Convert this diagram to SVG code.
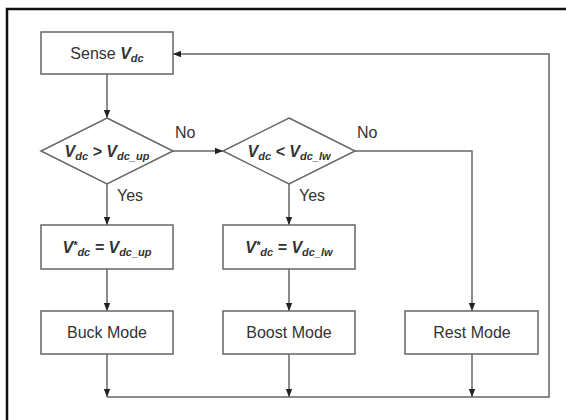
<svg xmlns="http://www.w3.org/2000/svg" width="566" height="420" viewBox="0 0 566 420">
<style>
.box{fill:#fff;stroke:#666;stroke-width:1.5}
.ln{fill:none;stroke:#666;stroke-width:1.5}
.t{font-family:"Liberation Sans",Arial,sans-serif;font-size:16px;fill:#333}
.bi{font-weight:bold;font-style:italic}
.s{font-size:11px;font-weight:bold;font-style:italic}
.lbl{font-family:"Liberation Sans",Arial,sans-serif;font-size:16px;fill:#333}
</style>
<defs>
<marker id="ah" viewBox="0 0 10 10" refX="10" refY="5" markerWidth="8" markerHeight="8" markerUnits="userSpaceOnUse" orient="auto">
<path d="M0,1 L10,5 L0,9 Z" fill="#222"/>
</marker>
</defs>
<rect width="566" height="420" fill="#fff"/>
<rect x="7" y="9" width="620" height="500" fill="none" stroke="#111" stroke-width="2.5"/>

<g id="connectors">
<line class="ln" x1="107" y1="74" x2="107" y2="118" marker-end="url(#ah)"/>
<line class="ln" x1="173" y1="151" x2="223" y2="151" marker-end="url(#ah)"/>
<line class="ln" x1="107" y1="184" x2="107" y2="225" marker-end="url(#ah)"/>
<line class="ln" x1="107" y1="269" x2="107" y2="311" marker-end="url(#ah)"/>
<line class="ln" x1="289" y1="184" x2="289" y2="225" marker-end="url(#ah)"/>
<line class="ln" x1="289" y1="269" x2="289" y2="311" marker-end="url(#ah)"/>
<polyline class="ln" points="355,151 472,151 472,311" marker-end="url(#ah)"/>
<line class="ln" x1="107" y1="354" x2="107" y2="397" marker-end="url(#ah)"/>
<line class="ln" x1="289" y1="354" x2="289" y2="397" marker-end="url(#ah)"/>
<line class="ln" x1="472" y1="354" x2="472" y2="397" marker-end="url(#ah)"/>
<polyline class="ln" points="107,397 549,397 549,54 173,54" marker-end="url(#ah)"/>
<text class="lbl" x="175" y="138">No</text>
<text class="lbl" x="357" y="138">No</text>
<text class="lbl" x="117" y="201">Yes</text>
<text class="lbl" x="299" y="201">Yes</text>
</g>

<g id="sense">
<rect class="box" x="41" y="32" width="132" height="42"/>
<text class="t" x="107" y="59" text-anchor="middle">Sense <tspan class="bi">V</tspan><tspan class="s" dy="3">dc</tspan></text>
</g>

<g id="cond1">
<polygon class="box" points="107,118 173,151 107,184 41,151"/>
<text class="t bi" x="107" y="157" text-anchor="middle">V<tspan class="s" dy="3">dc</tspan><tspan dy="-3"> &gt; V</tspan><tspan class="s" dy="3">dc_up</tspan></text>
</g>

<g id="cond2">
<polygon class="box" points="289,118 355,151 289,184 223,151"/>
<text class="t bi" x="289" y="157" text-anchor="middle">V<tspan class="s" dy="3">dc</tspan><tspan dy="-3"> &lt; V</tspan><tspan class="s" dy="3">dc_lw</tspan></text>
</g>

<g id="setup">
<rect class="box" x="41" y="225" width="132" height="44"/>
<text class="t bi" x="107" y="253" text-anchor="middle">V<tspan class="s" dy="-4">*</tspan><tspan class="s" dy="7">dc</tspan><tspan dy="-3"> = V</tspan><tspan class="s" dy="3">dc_up</tspan></text>
</g>

<g id="setlw">
<rect class="box" x="223" y="225" width="132" height="44"/>
<text class="t bi" x="289" y="253" text-anchor="middle">V<tspan class="s" dy="-4">*</tspan><tspan class="s" dy="7">dc</tspan><tspan dy="-3"> = V</tspan><tspan class="s" dy="3">dc_lw</tspan></text>
</g>

<g id="buck">
<rect class="box" x="41" y="311" width="132" height="43"/>
<text class="t" x="107" y="338" text-anchor="middle">Buck Mode</text>
</g>

<g id="boost">
<rect class="box" x="223" y="311" width="132" height="43"/>
<text class="t" x="289" y="338" text-anchor="middle">Boost Mode</text>
</g>

<g id="rest">
<rect class="box" x="405" y="311" width="133" height="43"/>
<text class="t" x="472" y="338" text-anchor="middle">Rest Mode</text>
</g>
</svg>
